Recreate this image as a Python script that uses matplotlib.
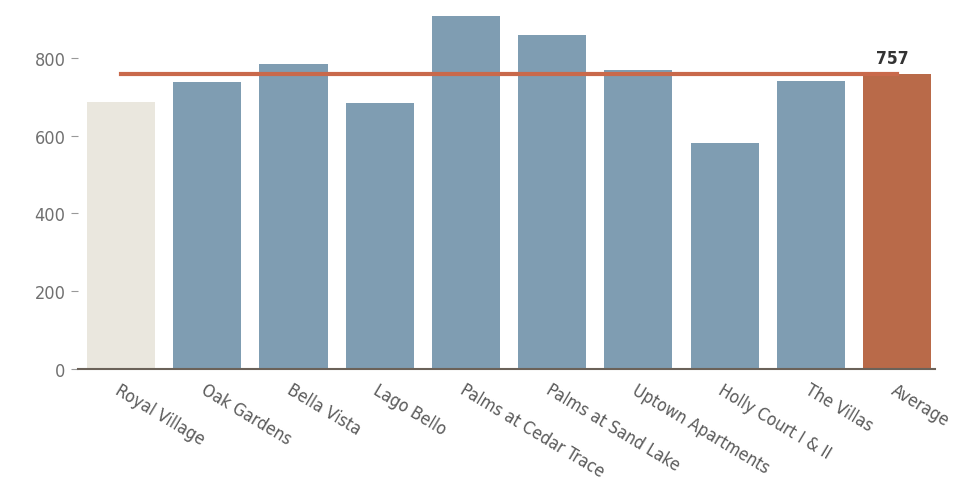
import matplotlib.pyplot as plt

# data
properties = ['Royal Village', 'Oak Gardens', 'Bella Vista', 'Lago Bello',
              'Palms at Cedar Trace', 'Palms at Sand Lake', 'Uptown Apartments',
              'Holly Court I & II', 'The Villas', 'Average']
values = [686, 738, 784, 684, 907, 859, 769, 581, 740, 757]
average = 757
yticks = [0, 200, 400, 600, 800]

bar_colors = ['#EAE7DE'] + ['#7F9DB2'] * 8 + ['#B96A49']

plt.rcParams['font.family'] = ['DejaVu Sans']
plt.rcParams['font.stretch'] = 'condensed'

fig = plt.figure(figsize=(9.72, 4.85), dpi=100)
ax = fig.add_axes([78 / 972, 115 / 485, 857 / 972, 370 / 485])

x = list(range(len(properties)))
ax.bar(x, values, width=0.79, color=bar_colors, zorder=2)
ax.plot([x[0], x[-1]], [average, average], color='#C9694B', lw=3, zorder=3)
ax.text(x[-1] - 0.05, average + 18, str(average), ha='center', va='bottom',
        fontsize=12.5, fontweight='bold', color='#333333')

ax.set_xlim(-0.5, 9.44)
ax.set_ylim(0, 951)
ax.set_yticks(yticks)
ax.set_yticklabels([str(v) for v in yticks], fontsize=13, color='#707070')
ax.set_xticks(x)
ax.set_xticklabels(properties, rotation=-31, ha='left', rotation_mode='anchor',
                   fontsize=12.5, color='#5a5a5a')
ax.tick_params(axis='x', length=0, pad=8)
ax.tick_params(axis='y', length=5, color='#999999', pad=4)

for s in ['top', 'right', 'left']:
    ax.spines[s].set_visible(False)
ax.spines['bottom'].set_color('#6b6259')
ax.spines['bottom'].set_linewidth(1.5)

fig.savefig('out.png', dpi=100)
